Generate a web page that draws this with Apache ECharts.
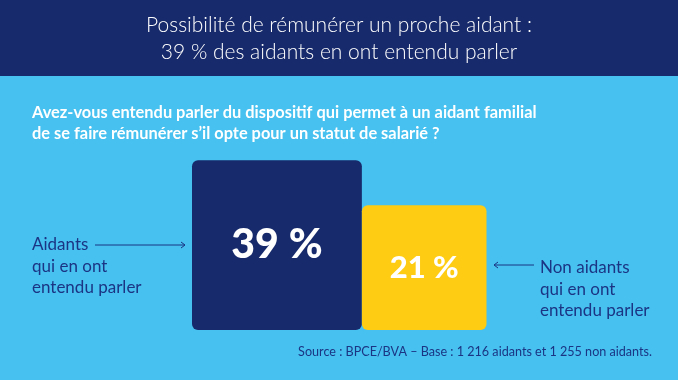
<!DOCTYPE html>
<html><head><meta charset="utf-8">
<script src="https://cdn.jsdelivr.net/npm/echarts@6/dist/echarts.min.js"></script>
<style>html,body{margin:0;padding:0;background:#47c1ef}#c{width:678px;height:380px}</style>
</head><body><div id="c"></div>
<script>
const categories = ['Aidants qui en ont entendu parler', 'Non aidants qui en ont entendu parler'];
const values = [39, 21];
const valueLabels = ['39 %', '21 %'];
const colors = ['#172a6b', '#fecc12'];
const titleLines = ['Possibilité de rémunérer un proche aidant :', '39 % des aidants en ont entendu parler'];
const questionLines = ["Avez-vous entendu parler du dispositif qui permet à un aidant familial", "de se faire rémunérer s’il opte pour un statut de salarié ?"];
const leftLabel = ['Aidants', 'qui en ont', 'entendu parler'];
const rightLabel = ['Non aidants', 'qui en ont', 'entendu parler'];
const sourceText = 'Source : BPCE/BVA – Base : 1 216 aidants et 1 255 non aidants.';

// squares with area proportional to value: side = sqrt(value)
let acc = 0;
const squares = values.map((v, i) => {
  const side = Math.sqrt(v);
  const d = [acc, side, i];
  acc += side;
  return d;
});

const K = 27.2; // px per unit on both axes
const chart = echarts.init(document.getElementById('c'));
const navyText = '#1b3584';
chart.setOption({
  backgroundColor: '#47c1ef',
  animation: false,
  grid: { left: 192, bottom: 50, width: 11 * K, height: 7.5 * K },
  xAxis: { type: 'value', min: 0, max: 11, show: false },
  yAxis: { type: 'value', min: 0, max: 7.5, show: false },
  series: [{
    type: 'custom',
    data: squares,
    renderItem: function (params, api) {
      const x0 = api.value(0), side = api.value(1), idx = api.value(2);
      const tl = api.coord([x0, side]);
      const br = api.coord([x0 + side, 0]);
      const w = br[0] - tl[0], h = br[1] - tl[1];
      return {
        type: 'group',
        children: [{
          type: 'rect',
          shape: { x: tl[0], y: tl[1], width: w, height: h, r: 6 },
          style: { fill: colors[idx] }
        }, {
          type: 'text',
          style: {
            x: tl[0] + w / 2, y: tl[1] + h / 2,
            text: valueLabels[idx],
            fill: '#ffffff',
            font: '900 ' + (idx === 0 ? 41 : 31) + 'px Lato',
            align: 'center', verticalAlign: 'middle'
          }
        }]
      };
    }
  }],
  graphic: [
    { type: 'rect', shape: { x: 0, y: 0, width: 678, height: 76 }, style: { fill: '#172a6b' } },
    { type: 'text', style: { x: 339, y: 25, text: titleLines[0], fill: '#fff', font: '300 21px Lato', align: 'center', verticalAlign: 'middle' } },
    { type: 'text', style: { x: 339, y: 52, text: titleLines[1], fill: '#fff', font: '300 21px Lato', align: 'center', verticalAlign: 'middle' } },
    { type: 'text', style: { x: 32, y: 113, text: questionLines[0], fill: '#fff', font: 'bold 16.4px Lato', verticalAlign: 'middle' } },
    { type: 'text', style: { x: 32, y: 134, text: questionLines[1], fill: '#fff', font: 'bold 16.4px Lato', verticalAlign: 'middle' } },
    ...leftLabel.map((t, i) => ({ type: 'text', style: { x: 32, y: 245 + i * 21.5, text: t, fill: navyText, font: '17px Lato', verticalAlign: 'middle' } })),
    ...rightLabel.map((t, i) => ({ type: 'text', style: { x: 540, y: 268 + i * 21.5, text: t, fill: navyText, font: '17px Lato', verticalAlign: 'middle' } })),
    { type: 'line', shape: { x1: 95, y1: 245, x2: 185, y2: 245 }, style: { stroke: navyText, lineWidth: 1 } },
    { type: 'polyline', shape: { points: [[181, 242], [185, 245], [181, 248]] }, style: { stroke: navyText, lineWidth: 1, fill: null } },
    { type: 'line', shape: { x1: 494, y1: 265, x2: 534, y2: 265 }, style: { stroke: navyText, lineWidth: 1 } },
    { type: 'polyline', shape: { points: [[498, 262], [494, 265], [498, 268]] }, style: { stroke: navyText, lineWidth: 1, fill: null } },
    { type: 'text', style: { x: 652, y: 352, text: sourceText, fill: navyText, font: '12.6px Lato', align: 'right', verticalAlign: 'middle' } }
  ]
});
</script></body></html>
